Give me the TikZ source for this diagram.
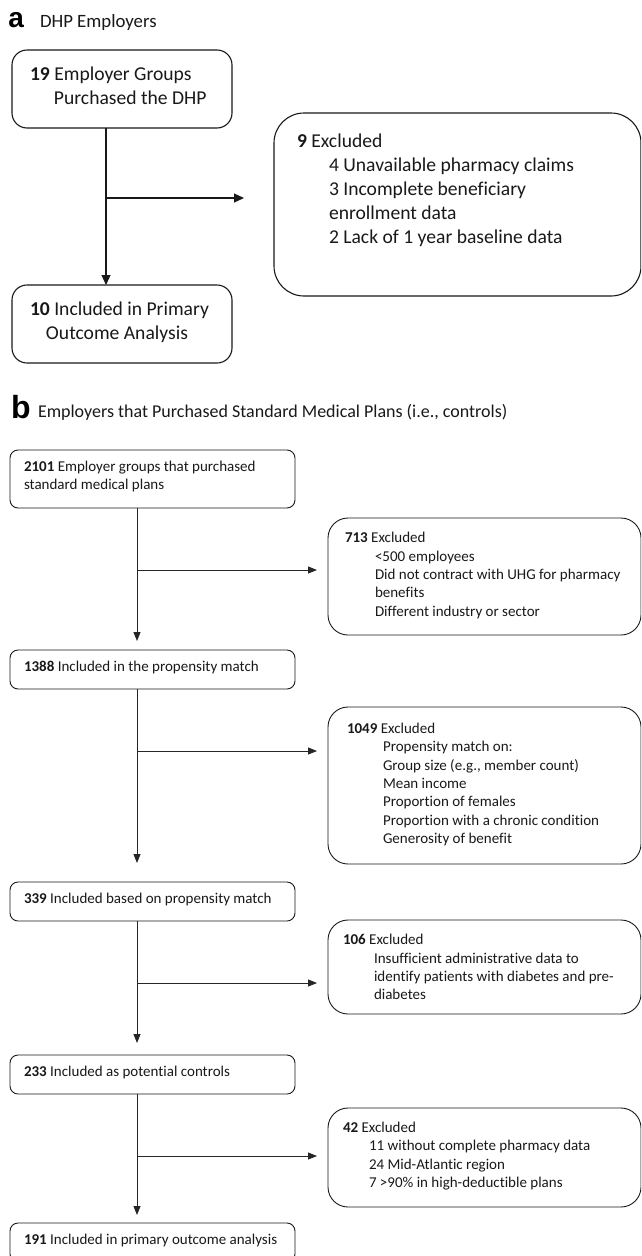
\documentclass[tikz,border=0pt]{standalone}
\usepackage{fontspec}
\setmainfont{Carlito}[Ligatures=NoCommon]
\newfontfamily\labfont{Liberation Sans}
\usetikzlibrary{arrows.meta}
\hyphenpenalty=10000
\exhyphenpenalty=10000
\begin{document}
\begin{tikzpicture}[x=1pt,y=-1pt,
  every node/.style={inner sep=0pt, outer sep=0pt},
  abox/.style={draw=black!90, line width=1.1pt, fill=white, anchor=north west, rounded corners=15pt},
  atext/.style={anchor=west, align=left, font=\fontsize{19.6}{24}\selectfont, text=black!90},
  bbox/.style={draw=black!90, line width=0.9pt, fill=white, anchor=north west, rounded corners=8pt},
  xbox/.style={bbox, rounded corners=20pt},
  btext/.style={anchor=west, align=left, font=\fontsize{15}{18.3}\selectfont, text=black!90},
  arra/.style={draw=black!90, line width=1.1pt, -{Triangle[length=10pt,width=9pt]}},
  arrb/.style={draw=black!85, line width=0.9pt, -{Triangle[length=9pt,width=7pt]}},
  panel/.style={anchor=base west},
  ptitle/.style={anchor=base west, text=black!90}
]
\useasboundingbox (0,0) rectangle (641,1256);
\clip (0,0) rectangle (641,1256);
\fill[white] (0,0) rectangle (641,1256);

% ---------------- panel a ----------------
\node[panel, font=\labfont\bfseries\fontsize{28}{28}\selectfont] (la) at (8.5,27) {a};
\node[ptitle, font=\fontsize{18.8}{22}\selectfont] (ta) at (40,27) {DHP Employers};

\node[abox, minimum width=220pt, minimum height=78pt] (A1) at (12,50) {};
\node[atext] (A1t) at ([xshift=18pt, yshift=3pt]A1.west)
  {\textbf{19} Employer Groups\\\hspace*{24pt}Purchased the DHP};
\node[abox, minimum width=220pt, minimum height=78pt] (A2) at (12,285) {};
\node[atext] (A2t) at ([xshift=18pt, yshift=2pt]A2.west)
  {\textbf{10} Included in Primary\\\hspace*{16pt}Outcome Analysis};
\node[abox, rounded corners=30pt, minimum width=367pt, minimum height=183pt] (AX) at (274,113) {};
\node[atext] (AXt) at ([xshift=23pt, yshift=14pt]AX.west)
  {\textbf{9} Excluded\\
   \hspace*{32pt}4 Unavailable pharmacy claims\\
   \hspace*{32pt}3 Incomplete beneficiary\\
   \hspace*{32pt}enrollment data\\
   \hspace*{32pt}2 Lack of 1 year baseline data};

\coordinate (ja) at (106,198);
\draw[arra] (A1.south -| ja) -- (A2.north -| ja);
\draw[arra, shorten >=30pt] (ja) -- (ja -| AX.west);

% ---------------- panel b ----------------
\node[panel, font=\labfont\bfseries\fontsize{32}{32}\selectfont] (lb) at (11,418) {b};
\node[ptitle, font=\fontsize{18}{22}\selectfont] (tb) at (38,417) {Employers that Purchased Standard Medical Plans (i.e., controls)};

\node[bbox, minimum width=285pt, minimum height=58pt] (B1) at (10,450) {};
\node[btext] (B1t) at ([xshift=14pt, yshift=2.5pt]B1.west)
  {\textbf{2101} Employer groups that purchased\\standard medical plans};
\node[bbox, minimum width=285pt, minimum height=39pt] (B2) at (10,650) {};
\node[btext] (B2t) at ([xshift=14pt, yshift=2.5pt]B2.west) {\textbf{1388} Included in the propensity match};
\node[bbox, minimum width=285pt, minimum height=39pt] (B3) at (10,882) {};
\node[btext] (B3t) at ([xshift=14pt, yshift=2.5pt]B3.west) {\textbf{339} Included based on propensity match};
\node[bbox, minimum width=285pt, minimum height=39pt] (B4) at (10,1055) {};
\node[btext] (B4t) at ([xshift=14pt, yshift=2.5pt]B4.west) {\textbf{233} Included as potential controls};
\node[bbox, minimum width=285pt, minimum height=39pt] (B5) at (10,1223) {};
\node[btext] (B5t) at ([xshift=14pt, yshift=2.5pt]B5.west) {\textbf{191} Included in primary outcome analysis};

\node[xbox, minimum width=313pt, minimum height=117pt] (X1) at (328,518) {};
\node[btext] (X1t) at ([xshift=17pt, yshift=1pt]X1.west)
  {\textbf{713} Excluded\\
   \hspace*{30pt}<500 employees\\
   \hspace*{30pt}Did not contract with UHG for pharmacy\\
   \hspace*{30pt}benefits\\
   \hspace*{30pt}Different industry or sector};
\node[xbox, minimum width=313pt, minimum height=157pt] (X2) at (328,707) {};
\node[btext] (X2t) at ([xshift=19pt, yshift=1pt]X2.west)
  {\textbf{1049} Excluded\\
   \hspace*{36pt}Propensity match on:\\
   \hspace*{36pt}Group size (e.g., member count)\\
   \hspace*{36pt}Mean income\\
   \hspace*{36pt}Proportion of females\\
   \hspace*{36pt}Proportion with a chronic condition\\
   \hspace*{36pt}Generosity of benefit};
\node[xbox, minimum width=313pt, minimum height=94pt] (X3) at (328,920) {};
\node[btext] (X3t) at ([xshift=15pt, yshift=0pt]X3.west)
  {\textbf{106} Excluded\\
   \hspace*{31pt}Insufficient administrative data to\\
   \hspace*{31pt}identify patients with diabetes and pre-\\
   \hspace*{31pt}diabetes};
\node[xbox, minimum width=313pt, minimum height=99pt] (X4) at (328,1108) {};
\node[btext] (X4t) at ([xshift=15pt, yshift=1.5pt]X4.west)
  {\textbf{42} Excluded\\
   \hspace*{26pt}11 without complete pharmacy data\\
   \hspace*{26pt}24 Mid-Atlantic region\\
   \hspace*{26pt}7 >90\% in high-deductible plans};

\coordinate (j1) at (137,570);
\coordinate (j2) at (137,751);
\coordinate (j3) at (137,983);
\coordinate (j4) at (137,1156);

\draw[arrb, shorten >=9pt] (B1.south -| j1) -- (B2.north -| j1);
\draw[arrb, shorten >=11pt] (j1) -- (j1 -| X1.west);
\draw[arrb, shorten >=19pt] (B2.south -| j2) -- (B3.north -| j2);
\draw[arrb, shorten >=11pt] (j2) -- (j2 -| X2.west);
\draw[arrb, shorten >=12pt] (B3.south -| j3) -- (B4.north -| j3);
\draw[arrb, shorten >=11pt] (j3) -- (j3 -| X3.west);
\draw[arrb, shorten >=8pt] (B4.south -| j4) -- (B5.north -| j4);
\draw[arrb, shorten >=11pt] (j4) -- (j4 -| X4.west);
\end{tikzpicture}
\end{document}
